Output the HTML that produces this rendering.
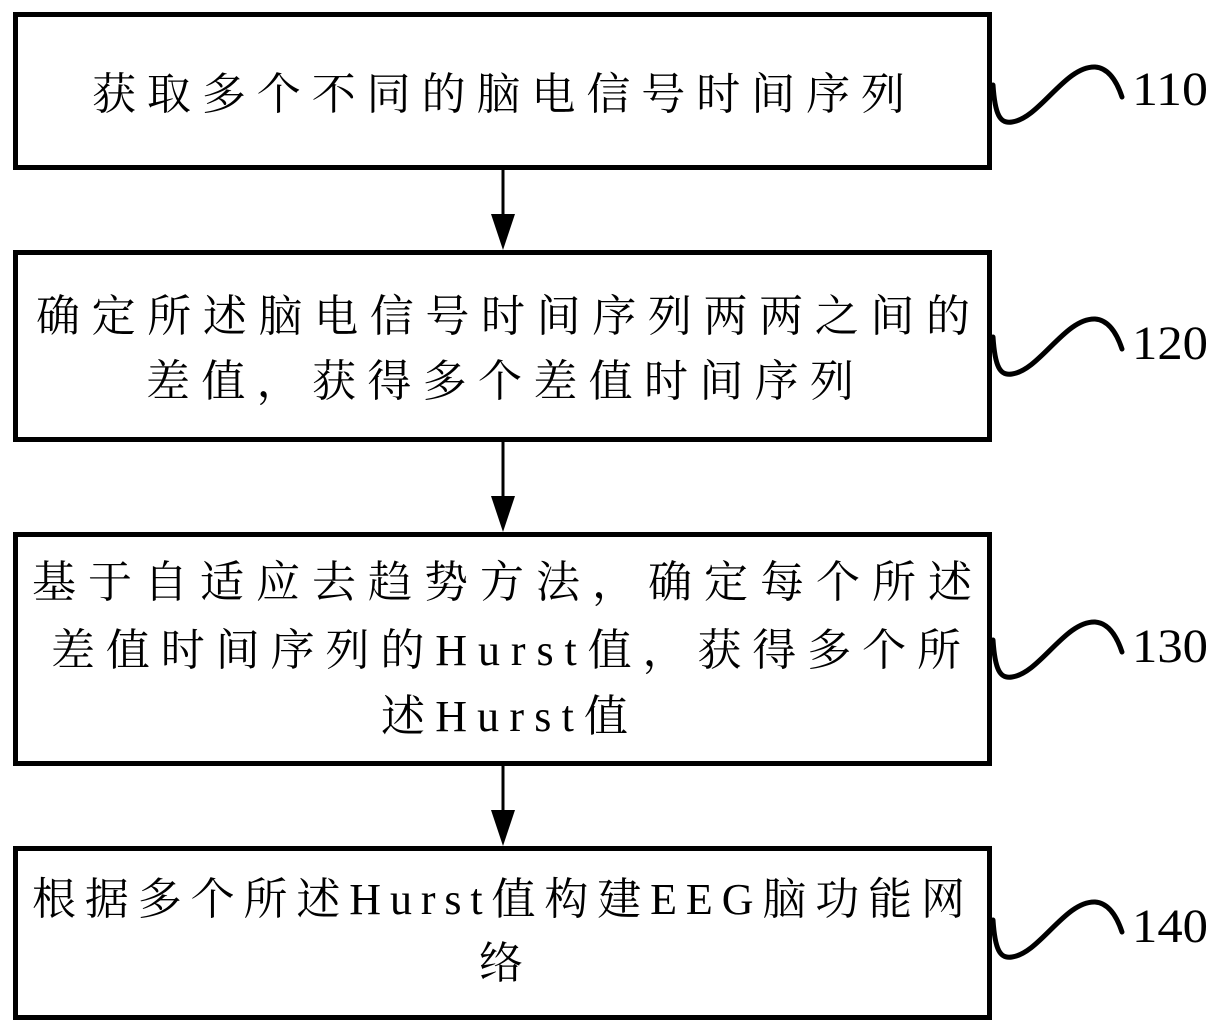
<!DOCTYPE html>
<html><head><meta charset="utf-8"><style>html,body{margin:0;padding:0;background:#fff}svg{display:block}</style></head>
<body>
<svg width="1225" height="1031" viewBox="0 0 1225 1031" xmlns="http://www.w3.org/2000/svg">
<g fill="none" stroke="#000" stroke-width="5">
<rect x="15.5" y="14.5" width="974" height="153"/>
<rect x="15.5" y="252.5" width="974" height="187"/>
<rect x="15.5" y="534.5" width="974" height="229"/>
<rect x="15.5" y="848.5" width="974" height="169"/>
</g>
<g stroke="#000" stroke-width="3">
<line x1="503" y1="168" x2="503" y2="220"/>
<line x1="503" y1="440" x2="503" y2="500"/>
<line x1="503" y1="764" x2="503" y2="814"/>
</g>
<g fill="#000">
<polygon points="491,214 515,214 503,250"/>
<polygon points="491,496 515,496 503,532"/>
<polygon points="491,810 515,810 503,846"/>
</g>
<g fill="none" stroke="#000" stroke-width="5" stroke-linecap="round">
<path d="M993,85 C995,115 1000,124 1012,122 C1040,118 1065,66 1095,67 C1110,68 1118,85 1122,97"/>
<path d="M993,337 C995,367 1000,376 1012,374 C1040,370 1065,318 1095,319 C1110,320 1118,337 1122,349"/>
<path d="M993,640 C995,670 1000,679 1012,677 C1040,673 1065,621 1095,622 C1110,623 1118,640 1122,652"/>
<path d="M993,920 C995,950 1000,959 1012,957 C1040,953 1065,901 1095,902 C1110,903 1118,920 1122,932"/>
</g>
<g font-family="'Liberation Serif', serif" font-size="48" fill="#000">
<text x="1132" y="105" textLength="76" lengthAdjust="spacingAndGlyphs">110</text>
<text x="1132" y="359" textLength="76" lengthAdjust="spacingAndGlyphs">120</text>
<text x="1132" y="662" textLength="76" lengthAdjust="spacingAndGlyphs">130</text>
<text x="1132" y="942" textLength="76" lengthAdjust="spacingAndGlyphs">140</text>
</g>
<g font-family="'Liberation Serif', 'Noto Serif CJK SC', serif" font-size="44" fill="#000">
<text x="92" y="109" textLength="813" lengthAdjust="spacing">获取多个不同的脑电信号时间序列</text>
<text x="36" y="331" textLength="934" lengthAdjust="spacing">确定所述脑电信号时间序列两两之间的</text>
<text x="146" y="396" textLength="708" lengthAdjust="spacing">差值，获得多个差值时间序列</text>
<text x="32" y="597" textLength="940" lengthAdjust="spacing">基于自适应去趋势方法，确定每个所述</text>
<text x="51" y="665" textLength="910" lengthAdjust="spacing">差值时间序列的Hurst值，获得多个所</text>
<text x="381" y="731" textLength="247" lengthAdjust="spacing">述Hurst值</text>
<text x="32" y="914" textLength="933" lengthAdjust="spacing">根据多个所述Hurst值构建EEG脑功能网</text>
<text x="479" y="978">络</text>
</g>
</svg>
</body></html>
